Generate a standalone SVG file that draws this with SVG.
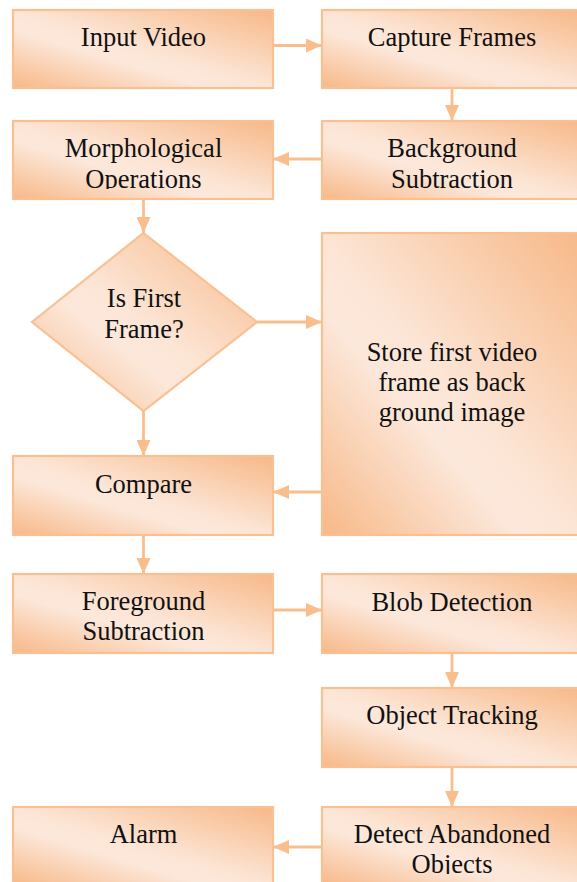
<svg xmlns="http://www.w3.org/2000/svg" width="577" height="882" viewBox="0 0 577 882">
<style>
.box{stroke:#F9C193;stroke-width:2.2;fill:url(#g)}
.t{font-family:"Liberation Serif","Times New Roman",serif;font-size:26.5px;fill:#111;text-anchor:middle}
.c{stroke:#F9BE8C;stroke-width:2.8;fill:none}
</style>
<defs>
<linearGradient id="g" x1="1" y1="0" x2="0" y2="1">
<stop offset="0" stop-color="#F7B887"/>
<stop offset="0.5" stop-color="#FCE5D5"/>
<stop offset="0.62" stop-color="#FCE8DB"/>
<stop offset="1" stop-color="#F7B887"/>
</linearGradient>
<marker id="a" markerUnits="userSpaceOnUse" markerWidth="16" markerHeight="14" refX="16" refY="7" orient="auto">
<path d="M0,0 L16,7 L0,14 Z" fill="#F9BE8C"/>
</marker>
<clipPath id="clipMorph"><rect x="13" y="121" width="260" height="68"/></clipPath>
<clipPath id="clipDetect"><rect x="322" y="807" width="260" height="67"/></clipPath>
</defs>

<g id="connectors">
<line class="c" x1="273" y1="45.5" x2="322" y2="45.5" marker-end="url(#a)"/>
<line class="c" x1="452" y1="88" x2="452" y2="121" marker-end="url(#a)"/>
<line class="c" x1="322" y1="159" x2="273" y2="159" marker-end="url(#a)"/>
<line class="c" x1="143.5" y1="199" x2="143.5" y2="233" marker-end="url(#a)"/>
<line class="c" x1="257" y1="322" x2="322" y2="322" marker-end="url(#a)"/>
<line class="c" x1="143.5" y1="411" x2="143.5" y2="456" marker-end="url(#a)"/>
<line class="c" x1="322" y1="492" x2="273" y2="492" marker-end="url(#a)"/>
<line class="c" x1="143.5" y1="535" x2="143.5" y2="574" marker-end="url(#a)"/>
<line class="c" x1="273" y1="610" x2="322" y2="610" marker-end="url(#a)"/>
<line class="c" x1="452" y1="653" x2="452" y2="688" marker-end="url(#a)"/>
<line class="c" x1="452" y1="767" x2="452" y2="807" marker-end="url(#a)"/>
<line class="c" x1="322" y1="847" x2="273" y2="847" marker-end="url(#a)"/>
</g>

<g id="input-video">
<rect class="box" x="13" y="10" width="260" height="78"/>
<text class="t" x="143.5" y="46">Input Video</text>
</g>
<g id="capture-frames">
<rect class="box" x="322" y="10" width="260" height="78"/>
<text class="t" x="452" y="46">Capture Frames</text>
</g>
<g id="morphological-operations">
<rect class="box" x="13" y="121" width="260" height="78"/>
<g clip-path="url(#clipMorph)">
<text class="t" x="143.5" y="157">Morphological</text>
<text class="t" x="143.5" y="188">Operations</text>
</g>
</g>
<g id="background-subtraction">
<rect class="box" x="322" y="121" width="260" height="78"/>
<text class="t" x="452" y="157">Background</text>
<text class="t" x="452" y="188">Subtraction</text>
</g>
<g id="is-first-frame">
<polygon class="box" points="143.5,233 257,322 143.5,411 32,322"/>
<text class="t" x="144" y="307">Is First</text>
<text class="t" x="144" y="338">Frame?</text>
</g>
<g id="store-first-frame">
<rect class="box" x="322" y="233" width="260" height="302"/>
<text class="t" x="452" y="361">Store first video</text>
<text class="t" x="452" y="391">frame as back</text>
<text class="t" x="452" y="421">ground image</text>
</g>
<g id="compare">
<rect class="box" x="13" y="456" width="260" height="79"/>
<text class="t" x="143.5" y="493">Compare</text>
</g>
<g id="foreground-subtraction">
<rect class="box" x="13" y="574" width="260" height="79"/>
<text class="t" x="143.5" y="610">Foreground</text>
<text class="t" x="143.5" y="640">Subtraction</text>
</g>
<g id="blob-detection">
<rect class="box" x="322" y="574" width="260" height="79"/>
<text class="t" x="452" y="611">Blob Detection</text>
</g>
<g id="object-tracking">
<rect class="box" x="322" y="688" width="260" height="79"/>
<text class="t" x="452" y="724">Object Tracking</text>
</g>
<g id="alarm">
<rect class="box" x="13" y="807" width="260" height="79"/>
<text class="t" x="143.5" y="843">Alarm</text>
</g>
<g id="detect-abandoned-objects">
<rect class="box" x="322" y="807" width="260" height="79"/>
<g clip-path="url(#clipDetect)">
<text class="t" x="452" y="843">Detect Abandoned</text>
<text class="t" x="452" y="873">Objects</text>
</g>
</g>
</svg>
